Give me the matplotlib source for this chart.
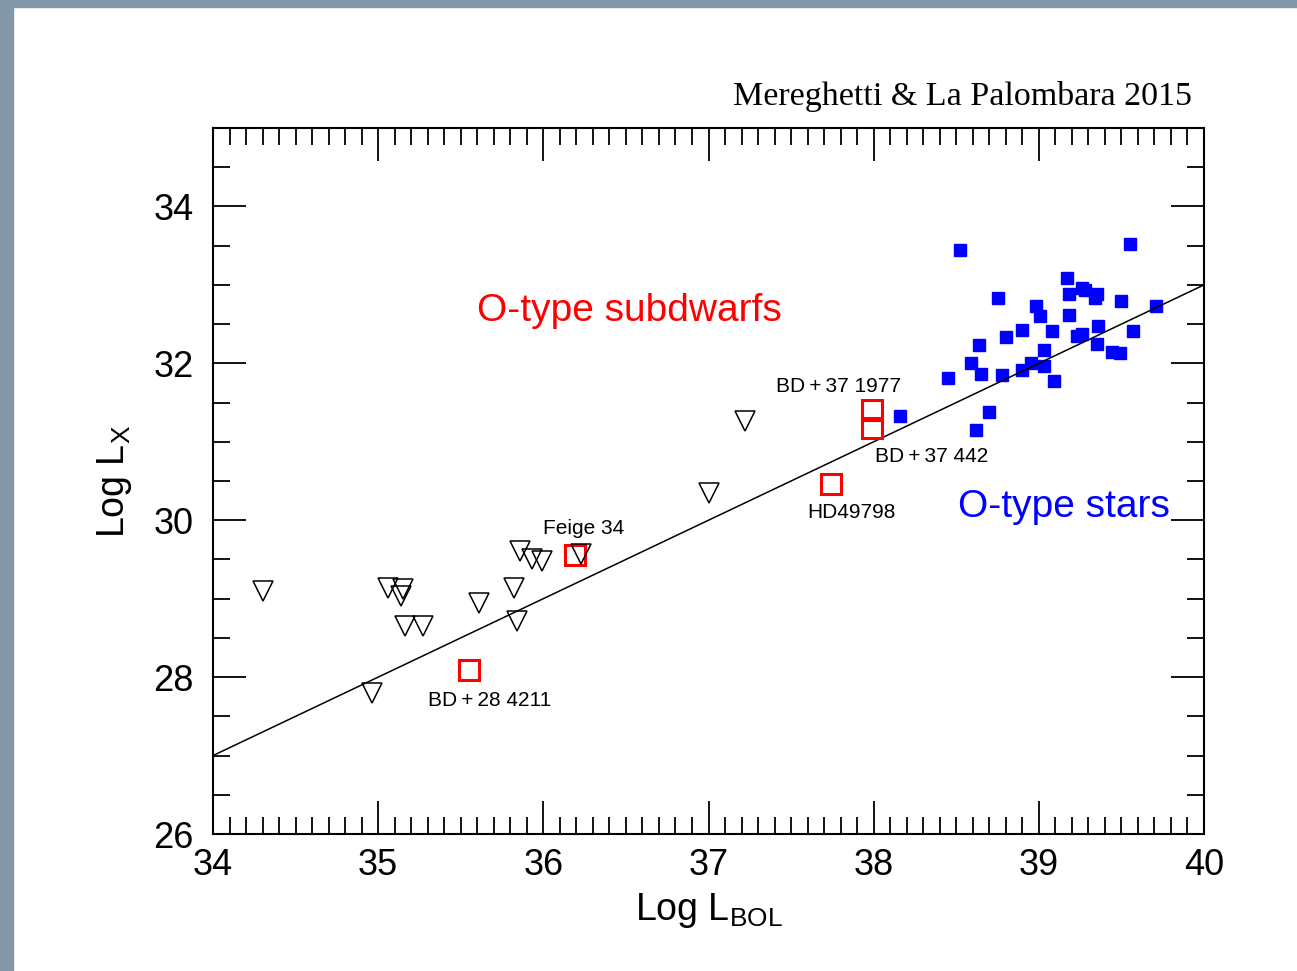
import numpy as np
import matplotlib.pyplot as plt
from matplotlib.patches import Rectangle
from matplotlib.ticker import MultipleLocator

# O-type stars (blue filled squares)
ostar_lbol = [38.52, 39.55, 39.17, 39.26, 39.28, 39.18, 39.35, 39.34, 39.50, 39.71,
              38.75, 38.98, 39.01, 39.18, 39.36, 39.08, 38.90, 38.80, 39.57, 39.23,
              39.26, 38.64, 39.03, 39.35, 39.44, 39.49, 38.59, 38.95, 38.90, 39.03,
              38.65, 38.78, 38.45, 39.09, 38.70, 38.62, 38.16]
ostar_lx = [33.44, 33.52, 33.09, 32.96, 32.94, 32.88, 32.88, 32.83, 32.80, 32.73,
            32.83, 32.73, 32.60, 32.61, 32.48, 32.41, 32.42, 32.34, 32.41, 32.35,
            32.37, 32.24, 32.17, 32.25, 32.14, 32.13, 32.01, 32.01, 31.92, 31.96,
            31.86, 31.85, 31.81, 31.77, 31.38, 31.15, 31.33]

# sdO upper limits (open down triangles)
ulim_lbol = [34.30, 35.06, 35.15, 35.14, 35.16, 35.27, 35.86, 35.93, 35.99, 36.23,
             35.82, 35.61, 35.84, 34.96, 37.22, 37.00]
ulim_lx = [29.10, 29.14, 29.12, 29.03, 28.65, 28.65, 29.61, 29.51, 29.48, 29.57,
           29.13, 28.95, 28.72, 27.80, 31.27, 30.35]

# detected sdO (open red squares)
det_lbol = [35.55, 36.19, 37.99, 37.99, 37.74]
det_lx = [28.09, 29.56, 31.41, 31.17, 30.46]

# labels: text, x, y
names = ["BD\u2009+\u200928 4211", "Feige 34", "BD\u2009+\u200937 1977",
         "BD\u2009+\u200937 442", "HD49798"]
name_x = [35.30, 36.00, 37.41, 38.01, 37.60]
name_y = [27.70, 29.90, 31.70, 30.81, 30.10]

plt.rcParams['font.family'] = ['Liberation Sans', 'DejaVu Sans']

fig = plt.figure(figsize=(12.97, 9.71), dpi=100)
fig.patch.set_facecolor('white')
# slide frame
fig.patches.append(Rectangle((0, 0), 13/1297, 1, transform=fig.transFigure,
                             color='#8298a8', zorder=0))
fig.patches.append(Rectangle((0, 1 - 7/971), 1, 7/971, transform=fig.transFigure,
                             color='#8298a8', zorder=0))

ax = fig.add_axes([213/1297, 1 - 834/971, 991/1297, 706/971])

lx = np.array([34, 40])
ax.plot(lx, lx - 7, color='black', lw=1.1, zorder=4)

ax.plot(ostar_lbol, ostar_lx, 's', color='#0000ff', ms=8, mec='#0000ff', zorder=3)
ax.plot(det_lbol, det_lx, 's', mfc='none', mec='red', mew=2.2, ms=14, zorder=5)
ax.plot(ulim_lbol, ulim_lx, 'v', mfc='none', mec='black', mew=1.1, ms=15, zorder=6)

for t, x, y in zip(names, name_x, name_y):
    ax.text(x, y, t, fontsize=15, ha='left', va='center')

ax.text(35.60, 32.67, "O-type subdwarfs", color='red', fontsize=28, ha='left', va='center')
ax.text(38.51, 30.17, "O-type stars", color='#0000ff', fontsize=28, ha='left', va='center')

ax.set_xlim(34, 40)
ax.set_ylim(26, 35)
ax.xaxis.set_major_locator(MultipleLocator(1))
ax.xaxis.set_minor_locator(MultipleLocator(0.1))
ax.yaxis.set_major_locator(MultipleLocator(2))
ax.yaxis.set_minor_locator(MultipleLocator(0.5))
ax.tick_params(which='both', direction='in', top=True, right=True, width=1.3)
ax.tick_params(which='major', length=24, labelsize=26)
ax.tick_params(axis='x', which='major', pad=10)
ax.tick_params(axis='y', which='major', pad=14)
ax.tick_params(which='minor', length=12)
for s in ax.spines.values():
    s.set_linewidth(1.5)

ax.set_xlabel(r"Log L$_{\mathregular{BOL}}$", fontsize=27, labelpad=6)
ax.set_ylabel(r"Log L$_{\mathregular{X}}$", fontsize=27, labelpad=14)

fig.text(1192/1297, 1 - 97/971, "Mereghetti & La Palombara 2015", family='Liberation Serif',
         fontsize=24.5, ha='right', va='center')

fig.savefig("out.png", dpi=100)
